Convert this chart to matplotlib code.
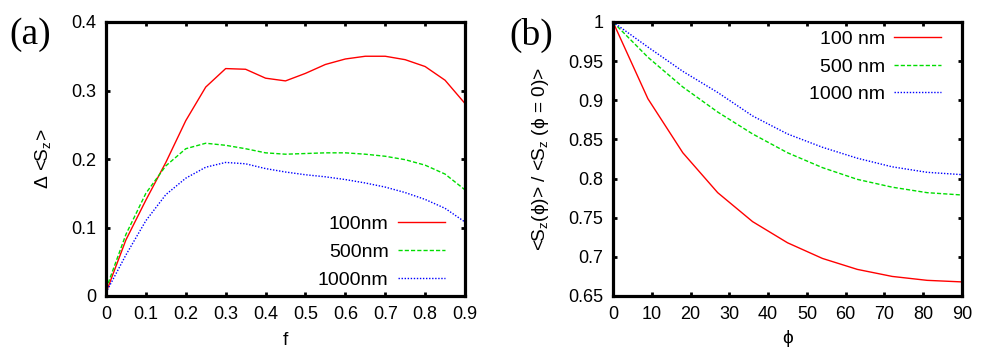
import matplotlib
matplotlib.use("Agg")
import matplotlib.pyplot as plt

plt.rcParams['font.family'] = ['Liberation Sans', 'DejaVu Sans']
plt.rcParams['mathtext.fontset'] = 'custom'
plt.rcParams['mathtext.rm'] = 'Liberation Sans'
plt.rcParams['mathtext.it'] = 'Liberation Sans'
plt.rcParams['mathtext.default'] = 'rm'

# Panel (a)
f_vals = [0, 0.05, 0.1, 0.15, 0.2, 0.25, 0.3, 0.35, 0.4, 0.45, 0.5, 0.55, 0.6, 0.65, 0.7, 0.75, 0.8, 0.85, 0.9]
a_100 = [0.005, 0.082, 0.140, 0.195, 0.256, 0.305, 0.332, 0.331, 0.318, 0.314, 0.325, 0.338, 0.346, 0.350, 0.350, 0.345, 0.335, 0.315, 0.281]
a_500 = [0.010, 0.090, 0.150, 0.190, 0.215, 0.223, 0.220, 0.215, 0.209, 0.207, 0.208, 0.209, 0.209, 0.207, 0.204, 0.199, 0.191, 0.178, 0.155]
a_1000 = [0.005, 0.060, 0.110, 0.148, 0.172, 0.188, 0.195, 0.193, 0.186, 0.181, 0.177, 0.174, 0.170, 0.165, 0.159, 0.151, 0.141, 0.128, 0.108]
a_labels = ['100nm', '500nm', '1000nm']

# Panel (b)
phi_vals = [0, 9, 18, 27, 36, 45, 54, 63, 72, 81, 90]
b_100 = [1.0, 0.902, 0.833, 0.782, 0.745, 0.718, 0.698, 0.684, 0.675, 0.670, 0.668]
b_500 = [1.0, 0.955, 0.917, 0.885, 0.857, 0.833, 0.814, 0.799, 0.789, 0.782, 0.779]
b_1000 = [1.0, 0.968, 0.937, 0.910, 0.880, 0.857, 0.840, 0.826, 0.815, 0.808, 0.805]
b_labels = ['100 nm', '500 nm', '1000 nm']

a_xticks = [0, 0.1, 0.2, 0.3, 0.4, 0.5, 0.6, 0.7, 0.8, 0.9]
a_yticks = [0, 0.1, 0.2, 0.3, 0.4]
b_xticks = [0, 10, 20, 30, 40, 50, 60, 70, 80, 90]
b_yticks = [0.65, 0.7, 0.75, 0.8, 0.85, 0.9, 0.95, 1.0]

colors = ['#ff0000', '#00dd00', '#0000ff']
styles = ['-', (0, (3, 1.5)), (0, (1, 1.2))]

fig = plt.figure(figsize=(9.97, 3.52), dpi=100)
W, H = 997, 352
axa = fig.add_axes([106 / W, 1 - 296 / H, (465 - 106) / W, (296 - 22) / H])
axb = fig.add_axes([613 / W, 1 - 296 / H, (962 - 613) / W, (296 - 22) / H])

FS = 13
LAB = 13.8
LFS = 14

def style(ax):
    for s in ax.spines.values():
        s.set_linewidth(2.3)
    ax.tick_params(direction='in', length=3, width=2, labelsize=FS, top=True, right=True, pad=7)

for ys, lab, c, ls in zip([a_100, a_500, a_1000], a_labels, colors, styles):
    axa.plot(f_vals, ys, color=c, linestyle=ls, linewidth=1.0, label=lab)
axa.set_xlim(0, 0.9)
axa.set_ylim(0, 0.4)
axa.set_xticks(a_xticks)
axa.set_xticklabels(['0' if v == 0 else f'{v:g}' for v in a_xticks])
axa.set_yticks(a_yticks)
axa.set_yticklabels(['0' if v == 0 else f'{v:g}' for v in a_yticks])
style(axa)
axa.set_xlabel('f', fontsize=LAB, labelpad=7)
axa.set_ylabel(r'$\Delta$ <S$_z$>', fontsize=LAB, labelpad=13)
axa.legend(loc='lower right', frameon=False, markerfirst=False, fontsize=LFS,
           handlelength=2.4, handletextpad=0.5, labelspacing=0.55,
           borderpad=0, borderaxespad=0,
           bbox_to_anchor=(0.944, 0.025))

for ys, lab, c, ls in zip([b_100, b_500, b_1000], b_labels, colors, styles):
    axb.plot(phi_vals, ys, color=c, linestyle=ls, linewidth=1.0, label=lab)
axb.set_xlim(0, 90)
axb.set_ylim(0.65, 1.0)
axb.set_xticks(b_xticks)
axb.set_yticks(b_yticks)
axb.set_yticklabels(['1' if v == 1 else f'{v:g}' for v in b_yticks])
style(axb)
axb.set_xlabel('\u03d5', fontsize=LAB, labelpad=5)
axb.set_ylabel('<S$_z$(\u03d5)> / <S$_z$ (\u03d5 = 0)>', fontsize=LAB, labelpad=12)
axb.legend(loc='upper right', frameon=False, markerfirst=False, fontsize=LFS,
           handlelength=2.4, handletextpad=0.5, labelspacing=0.52,
           borderpad=0, borderaxespad=0,
           bbox_to_anchor=(0.94, 0.97))

fig.text(9 / W, 1 - 35 / H, '(a)', family='Liberation Serif', fontsize=27, va='center', ha='left')
fig.text(509 / W, 1 - 35 / H, '(b)', family='Liberation Serif', fontsize=27, va='center', ha='left')

fig.savefig('out.png', dpi=100)
